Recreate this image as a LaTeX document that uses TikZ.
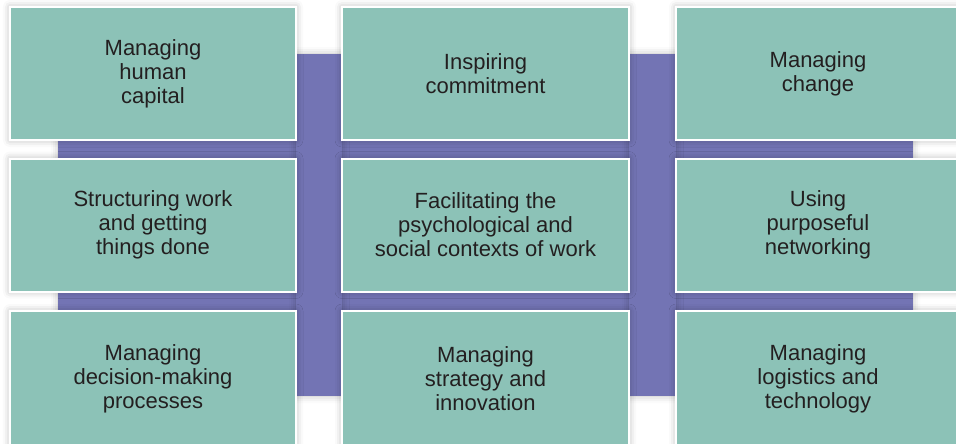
\documentclass[tikz,border=0pt]{standalone}
\usepackage{fontspec}
\setmainfont{Liberation Sans}
\usetikzlibrary{shadows.blur}
\definecolor{teal}{RGB}{140,194,183}
\definecolor{violet}{RGB}{115,116,180}
\definecolor{ink}{RGB}{35,31,32}

\begin{document}
\begin{tikzpicture}[x=1pt, y=-1pt,
  box/.style={draw=white, line width=2pt, fill=teal, text=ink, align=center,
    font=\fontsize{22}{24}\selectfont, minimum height=133pt, inner sep=0pt,
    blur shadow={shadow xshift=0pt, shadow yshift=0pt, shadow blur radius=7pt, shadow opacity=30}},
  bar/.style={fill=violet,
    blur shadow={shadow xshift=0pt, shadow yshift=0pt, shadow blur radius=7pt, shadow opacity=25}}]
\useasboundingbox (0,0) rectangle (956,444);

% cross bars behind
\fill [bar] (58,140) rectangle (913,158);
\fill [bar] (58,292) rectangle (913,311);
\fill [bar] (296,54) rectangle (342,396);
\fill [bar] (629,54) rectangle (676,396);

% top row
\node [box, minimum width=286pt] (HC) at (153,73.5) {Managing\\human\\capital};
\node [box, minimum width=287pt] (IC) at (485.5,73.5) {Inspiring\\commitment};
\node [box, minimum width=284pt] (MC) at (818,73.5) {Managing\\change};

% middle row
\node [box, minimum width=286pt] (SW) at (153,225) {Structuring work\\and getting\\things done};
\node [box, minimum width=287pt] (FP) at (485.5,225) {Facilitating the\\psychological and\\social contexts of work};
\node [box, minimum width=284pt] (PN) at (818,225) {Using\\purposeful\\networking};

% bottom row
\node [box, minimum width=286pt, minimum height=135pt] (DM) at (153,378.5) {Managing\\decision-making\\processes};
\node [box, minimum width=287pt, minimum height=135pt] (SI) at (485.5,378.5) {Managing\\strategy and\\innovation};
\node [box, minimum width=284pt, minimum height=135pt] (LT) at (818,378.5) {Managing\\logistics and\\technology};

\end{tikzpicture}
\end{document}
